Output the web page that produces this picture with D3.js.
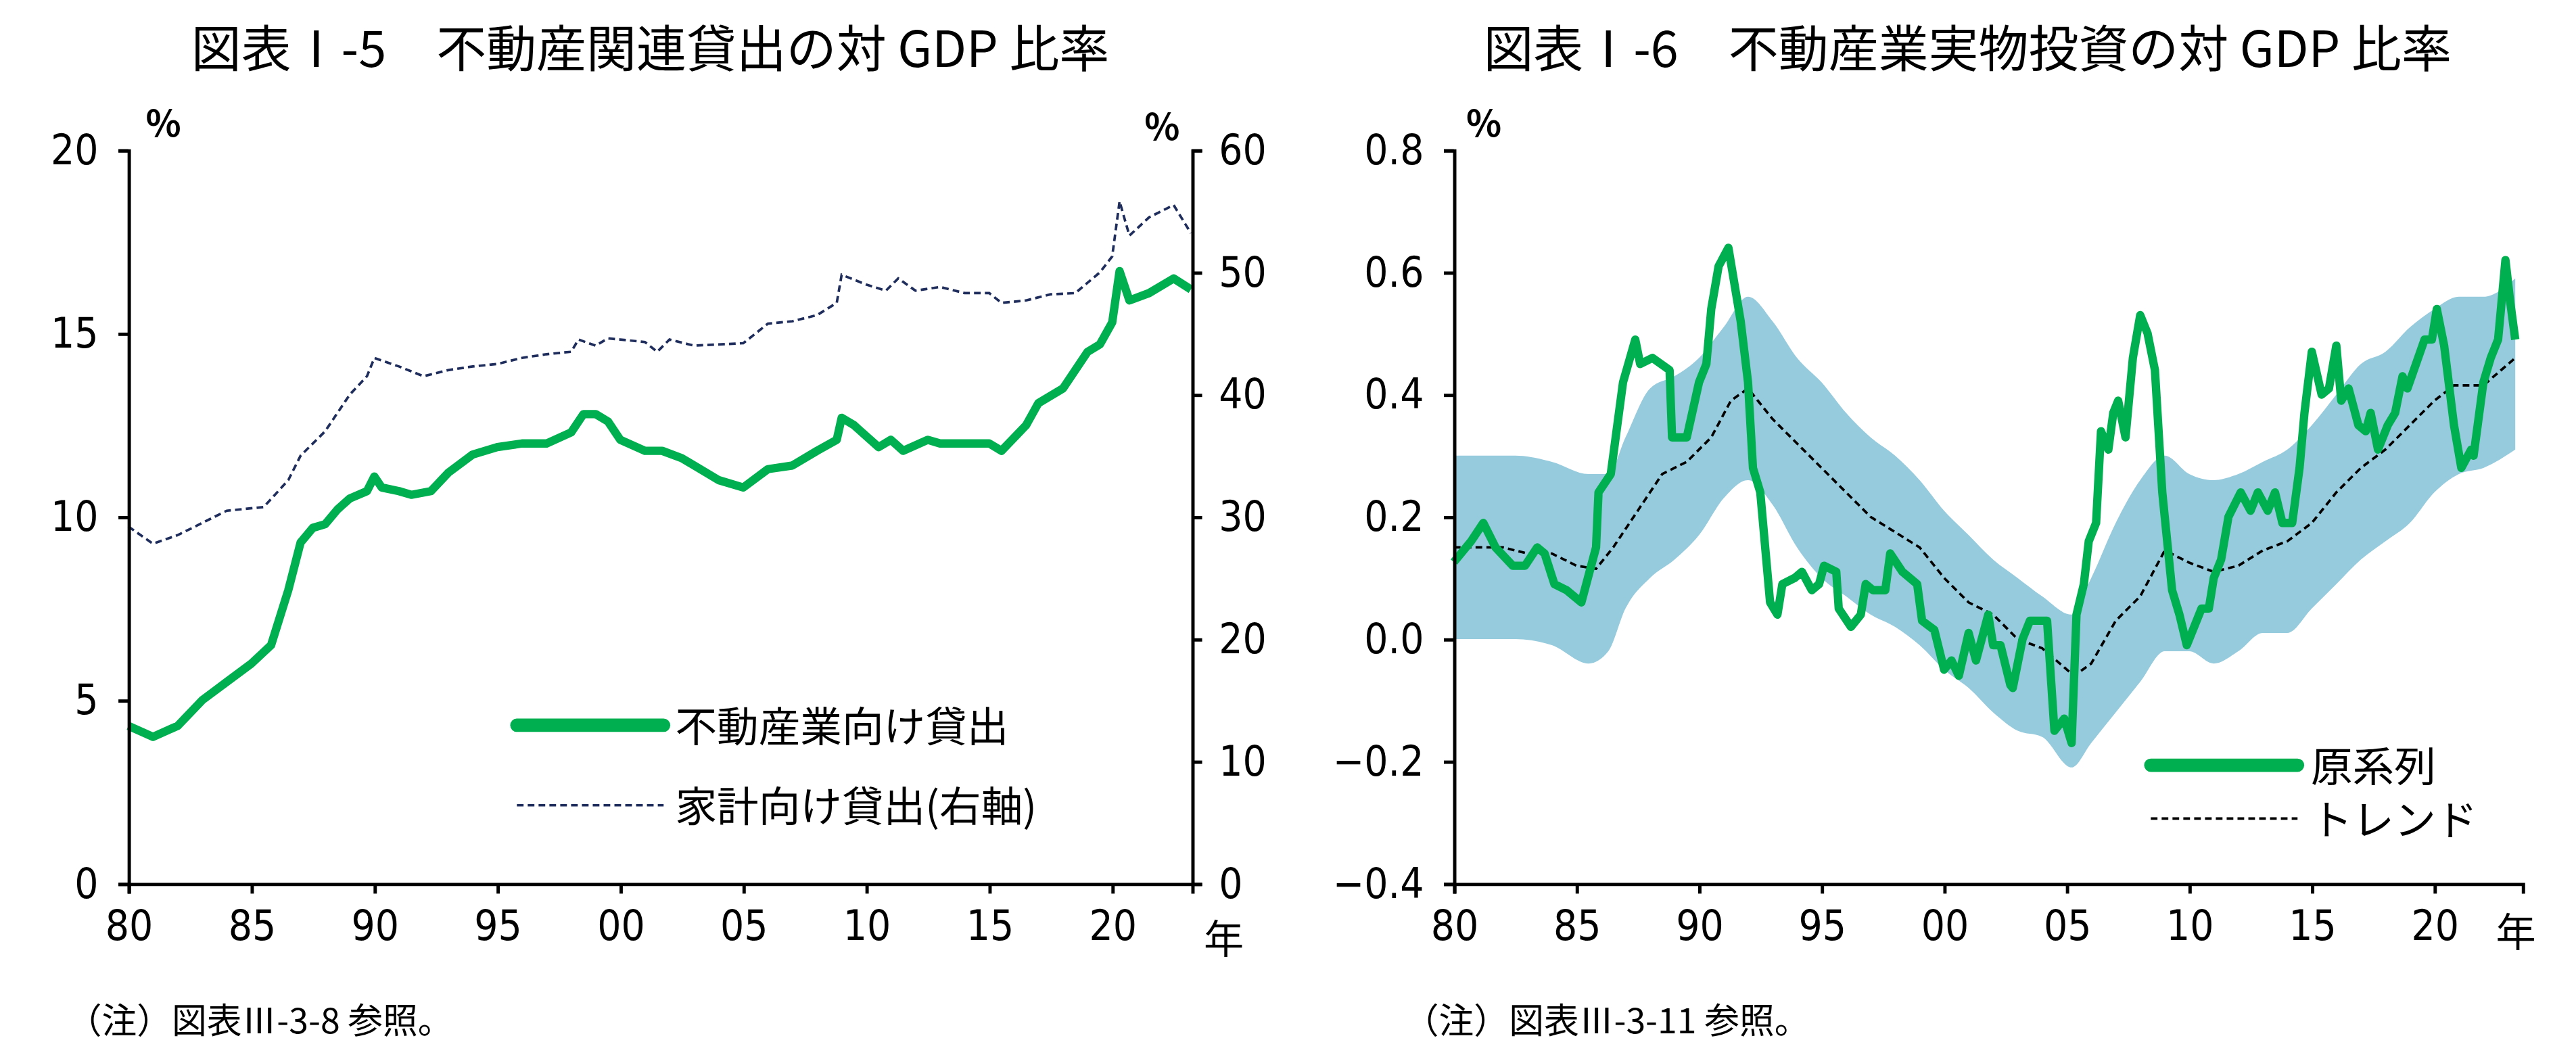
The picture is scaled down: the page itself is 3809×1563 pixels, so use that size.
<!DOCTYPE html>
<html><head><meta charset="utf-8">
<script src="https://cdn.jsdelivr.net/npm/d3@7"></script>
<style>
html,body{margin:0;padding:0;background:#fff;}
svg{display:block;}
text{font-family:"Noto Sans CJK JP",sans-serif;fill:#000;}
.num{font-family:"Liberation Sans Narrow","DejaVu Sans Condensed",sans-serif;}
</style></head><body>
<script>
// Chart I-5: real-estate lending / GDP (%)
const bizLoans = [[1980,4.3],[1981,4.0],[1982,4.3],[1983,5.0],[1984,5.5],[1985,6.0],[1985.8,6.5],[1986.5,8.0],[1987,9.3],[1987.5,9.7],[1988,9.8],[1988.5,10.2],[1989,10.5],[1989.7,10.7],[1990,11.1],[1990.3,10.8],[1991,10.7],[1991.5,10.6],[1992.3,10.7],[1993,11.2],[1994,11.7],[1995,11.9],[1996,12.0],[1997,12.0],[1998,12.3],[1998.5,12.8],[1999,12.8],[1999.5,12.6],[2000,12.1],[2001,11.8],[2001.7,11.8],[2002.5,11.6],[2003,11.4],[2004,11.0],[2005,10.8],[2006,11.3],[2007,11.4],[2008,11.8],[2008.8,12.1],[2009,12.7],[2009.5,12.5],[2010.5,11.9],[2011,12.1],[2011.5,11.8],[2012.5,12.1],[2013,12.0],[2015,12.0],[2015.5,11.8],[2016.5,12.5],[2017,13.1],[2018,13.5],[2019,14.5],[2019.5,14.7],[2020,15.3],[2020.3,16.7],[2020.7,15.9],[2021.5,16.1],[2022.5,16.5],[2023.2,16.2]];
const hhLoans = [[1980,29.2],[1981,27.8],[1982,28.5],[1983,29.5],[1984,30.5],[1985.5,30.8],[1986.5,33],[1987,35],[1988,37],[1989,40],[1989.7,41.5],[1990,43],[1991,42.3],[1992,41.5],[1993,42],[1994,42.3],[1995,42.5],[1996,43],[1997,43.3],[1998,43.5],[1998.3,44.5],[1999,44],[1999.5,44.6],[2000,44.5],[2001,44.3],[2001.5,43.5],[2002,44.5],[2003,44],[2005,44.2],[2006,45.8],[2007,46],[2008,46.5],[2008.8,47.5],[2009,49.8],[2010,49],[2010.8,48.5],[2011.3,49.5],[2012,48.5],[2013,48.8],[2014,48.3],[2015,48.3],[2015.5,47.5],[2016.5,47.7],[2017.5,48.2],[2018.5,48.3],[2019.5,50],[2020,51.3],[2020.3,55.8],[2020.7,53],[2021.5,54.5],[2022.5,55.5],[2023.2,53.2]];

// Chart I-6: real-estate investment / GDP (%)
const invRaw = [[1980,0.126],[1980.7,0.16],[1981.2,0.19],[1981.7,0.15],[1982.4,0.12],[1982.9,0.12],[1983.4,0.15],[1983.7,0.14],[1984.1,0.09],[1984.6,0.08],[1985.2,0.06],[1985.8,0.15],[1985.9,0.24],[1986.4,0.27],[1986.9,0.42],[1987.4,0.49],[1987.6,0.45],[1988.1,0.46],[1988.8,0.44],[1988.9,0.33],[1989.5,0.33],[1990,0.42],[1990.3,0.45],[1990.5,0.54],[1990.8,0.61],[1991.2,0.64],[1991.7,0.52],[1992,0.42],[1992.2,0.28],[1992.5,0.24],[1992.9,0.06],[1993.2,0.04],[1993.4,0.09],[1993.9,0.1],[1994.2,0.11],[1994.6,0.08],[1994.9,0.09],[1995.1,0.12],[1995.6,0.11],[1995.7,0.05],[1996.2,0.02],[1996.6,0.04],[1996.8,0.09],[1997.1,0.08],[1997.6,0.08],[1997.8,0.14],[1998.3,0.11],[1998.9,0.09],[1999.1,0.03],[1999.6,0.015],[2000,-0.05],[2000.3,-0.035],[2000.6,-0.06],[2001,0.01],[2001.3,-0.035],[2001.8,0.04],[2002,-0.01],[2002.3,-0.01],[2002.7,-0.075],[2002.8,-0.08],[2003.2,0.0],[2003.5,0.03],[2003.9,0.03],[2004.2,0.03],[2004.5,-0.15],[2004.9,-0.13],[2005.2,-0.17],[2005.4,0.04],[2005.7,0.09],[2005.9,0.16],[2006.2,0.19],[2006.4,0.34],[2006.7,0.31],[2006.9,0.37],[2007.1,0.39],[2007.4,0.33],[2007.7,0.46],[2008,0.53],[2008.3,0.5],[2008.6,0.44],[2008.9,0.24],[2009.3,0.08],[2009.6,0.04],[2009.9,-0.01],[2010.5,0.05],[2010.8,0.05],[2011,0.1],[2011.3,0.13],[2011.6,0.2],[2012.1,0.24],[2012.5,0.21],[2012.8,0.24],[2013.2,0.21],[2013.5,0.24],[2013.8,0.19],[2014.2,0.19],[2014.5,0.28],[2014.7,0.37],[2015,0.47],[2015.4,0.40],[2015.7,0.41],[2016,0.48],[2016.2,0.39],[2016.5,0.41],[2016.9,0.35],[2017.2,0.34],[2017.4,0.37],[2017.7,0.31],[2018.1,0.35],[2018.4,0.37],[2018.7,0.43],[2018.9,0.41],[2019.6,0.49],[2019.9,0.49],[2020.1,0.54],[2020.4,0.48],[2020.8,0.35],[2021.1,0.28],[2021.5,0.31],[2021.6,0.3],[2022,0.42],[2022.3,0.46],[2022.6,0.49],[2022.9,0.62],[2023.1,0.55],[2023.3,0.49]];
const invTrend = [[1980,0.15],[1982,0.15],[1983,0.14],[1984,0.14],[1985,0.12],[1985.8,0.115],[1986.5,0.15],[1987.5,0.21],[1988.5,0.27],[1989.5,0.29],[1990.5,0.33],[1991.3,0.39],[1992,0.41],[1993,0.36],[1994,0.32],[1995,0.28],[1996,0.24],[1997,0.2],[1998,0.175],[1999,0.15],[2000,0.1],[2001,0.06],[2002,0.04],[2003,0.0],[2004,-0.015],[2005.3,-0.06],[2006,-0.04],[2007,0.03],[2008,0.07],[2009,0.145],[2010,0.125],[2011,0.11],[2012,0.12],[2013,0.145],[2014,0.16],[2015,0.19],[2016,0.24],[2017,0.28],[2018,0.31],[2019,0.35],[2020,0.39],[2020.8,0.415],[2022,0.415],[2023.3,0.46]];
const bandYears = [1980,1982.5,1984,1985.5,1986.3,1987,1988,1989,1990,1991,1992,1993,1994,1995,1996,1997,1998,1999,2000,2001,2002,2003,2004,2005.2,2006,2007,2008,2009,2010,2011,2012,2013,2014,2015,2016,2017,2018,2019,2020,2021,2022,2023.3];
const bandHigh = [0.30,0.30,0.29,0.27,0.27,0.33,0.41,0.43,0.46,0.51,0.56,0.52,0.46,0.42,0.37,0.33,0.30,0.26,0.21,0.17,0.13,0.10,0.07,0.04,0.10,0.19,0.26,0.30,0.27,0.26,0.27,0.29,0.31,0.35,0.40,0.45,0.47,0.51,0.54,0.56,0.56,0.59];
const bandLow = [0.0,0.0,-0.01,-0.04,-0.02,0.05,0.10,0.13,0.17,0.23,0.26,0.22,0.15,0.10,0.07,0.04,0.02,-0.01,-0.05,-0.08,-0.12,-0.15,-0.16,-0.21,-0.17,-0.12,-0.07,-0.02,-0.02,-0.04,-0.02,0.01,0.01,0.05,0.09,0.13,0.16,0.19,0.24,0.27,0.28,0.31];

const xTicks = [1980,1985,1990,1995,2000,2005,2010,2015,2020];
const yearLabel = d => String(d % 100).padStart(2, '0');
const GREEN = '#00b050', NAVY = '#1f2d5c', BAND = '#96cbdd';

const W = 1545, H = 634;
const svg = d3.select('body').append('svg')
  .attr('viewBox', `0 0 ${W} ${H}`)
  .attr('width', 3809).attr('height', 1563);

function styleAxis(g, size) {
  g.select('.domain').attr('stroke', '#000').attr('stroke-width', 2);
  g.selectAll('line').attr('stroke', '#000').attr('stroke-width', 2);
  g.selectAll('text').attr('class', 'num').attr('font-size', size).attr('fill', '#000');
}

// ---- left chart ----
{
  const x = d3.scaleLinear().domain([1980, 2023.25]).range([77, 715]);
  const yL = d3.scaleLinear().domain([0, 20]).range([530, 90]);
  const yR = d3.scaleLinear().domain([0, 60]).range([530, 90]);

  svg.append('text').attr('x', 390).attr('y', 40).attr('text-anchor', 'middle')
    .attr('font-size', 30).text('図表Ⅰ-5　不動産関連貸出の対 GDP 比率');

  svg.append('path').datum(hhLoans)
    .attr('d', d3.line().x(d => x(d[0])).y(d => yR(d[1])))
    .attr('fill', 'none').attr('stroke', NAVY).attr('stroke-width', 1.5).attr('stroke-dasharray', '4,2.5');
  svg.append('path').datum(bizLoans)
    .attr('d', d3.line().x(d => x(d[0])).y(d => yL(d[1])))
    .attr('fill', 'none').attr('stroke', GREEN).attr('stroke-width', 5).attr('stroke-linejoin', 'round');

  svg.append('g').attr('transform', 'translate(77,0)')
    .call(d3.axisLeft(yL).tickValues([0, 5, 10, 15, 20]).tickSize(6).tickPadding(12))
    .call(g => styleAxis(g, 25));
  svg.append('g').attr('transform', 'translate(715,0)')
    .call(d3.axisRight(yR).tickValues([0, 10, 20, 30, 40, 50, 60]).tickSize(6).tickPadding(10))
    .call(g => styleAxis(g, 25));
  svg.append('g').attr('transform', 'translate(0,530)')
    .call(d3.axisBottom(x).tickValues(xTicks).tickFormat(yearLabel).tickSize(6).tickPadding(10))
    .call(g => styleAxis(g, 25));

  svg.append('text').attr('x', 98).attr('y', 82).attr('text-anchor', 'middle').attr('font-size', 22).attr('font-weight', 'bold').text('%');
  svg.append('text').attr('x', 697).attr('y', 84).attr('text-anchor', 'middle').attr('font-size', 22).attr('font-weight', 'bold').text('%');
  svg.append('text').attr('x', 722).attr('y', 572).attr('font-size', 24).text('年');
  svg.append('text').attr('x', 40).attr('y', 620).attr('font-size', 21).text('（注）図表Ⅲ-3-8 参照。');

  svg.append('line').attr('x1', 310).attr('x2', 398).attr('y1', 435).attr('y2', 435)
    .attr('stroke', GREEN).attr('stroke-width', 8).attr('stroke-linecap', 'round');
  svg.append('text').attr('x', 405).attr('y', 445).attr('font-size', 25).text('不動産業向け貸出');
  svg.append('line').attr('x1', 310).attr('x2', 398).attr('y1', 483).attr('y2', 483)
    .attr('stroke', NAVY).attr('stroke-width', 1.5).attr('stroke-dasharray', '4,2.5');
  svg.append('text').attr('x', 405).attr('y', 493).attr('font-size', 25).text('家計向け貸出(右軸)');
}

// ---- right chart ----
{
  const x = d3.scaleLinear().domain([1980, 2023.6]).range([872, 1513]);
  const y = d3.scaleLinear().domain([-0.4, 0.8]).range([530, 90]);

  svg.append('text').attr('x', 1180).attr('y', 40).attr('text-anchor', 'middle')
    .attr('font-size', 30).text('図表Ⅰ-6　不動産業実物投資の対 GDP 比率');

  const band = bandYears.map((yr, i) => [yr, bandLow[i], bandHigh[i]]);
  svg.append('path').datum(band)
    .attr('d', d3.area().x(d => x(d[0])).y0(d => y(d[1])).y1(d => y(d[2])).curve(d3.curveMonotoneX))
    .attr('fill', BAND);
  svg.append('path').datum(invTrend)
    .attr('d', d3.line().x(d => x(d[0])).y(d => y(d[1])))
    .attr('fill', 'none').attr('stroke', '#000').attr('stroke-width', 1.5).attr('stroke-dasharray', '4,2.5');
  svg.append('path').datum(invRaw)
    .attr('d', d3.line().x(d => x(d[0])).y(d => y(d[1])))
    .attr('fill', 'none').attr('stroke', GREEN).attr('stroke-width', 5).attr('stroke-linejoin', 'round');

  svg.append('g').attr('transform', 'translate(872,0)')
    .call(d3.axisLeft(y).tickValues([-0.4, -0.2, 0, 0.2, 0.4, 0.6, 0.8]).tickFormat(d3.format('.1f')).tickSize(6).tickPadding(12))
    .call(g => styleAxis(g, 25));
  svg.append('g').attr('transform', 'translate(0,530)')
    .call(d3.axisBottom(x).tickValues(xTicks).tickFormat(yearLabel).tickSize(6).tickPadding(10))
    .call(g => styleAxis(g, 25));

  svg.append('text').attr('x', 890).attr('y', 82).attr('text-anchor', 'middle').attr('font-size', 22).attr('font-weight', 'bold').text('%');
  svg.append('text').attr('x', 1497).attr('y', 568).attr('font-size', 24).text('年');
  svg.append('text').attr('x', 842).attr('y', 620).attr('font-size', 21).text('（注）図表Ⅲ-3-11 参照。');

  svg.append('line').attr('x1', 1290).attr('x2', 1378).attr('y1', 459).attr('y2', 459)
    .attr('stroke', GREEN).attr('stroke-width', 8).attr('stroke-linecap', 'round');
  svg.append('text').attr('x', 1386).attr('y', 469).attr('font-size', 25).text('原系列');
  svg.append('line').attr('x1', 1290).attr('x2', 1378).attr('y1', 491).attr('y2', 491)
    .attr('stroke', '#000').attr('stroke-width', 1.5).attr('stroke-dasharray', '4,2.5');
  svg.append('text').attr('x', 1386).attr('y', 501).attr('font-size', 25).text('トレンド');
}
</script>
</body></html>
